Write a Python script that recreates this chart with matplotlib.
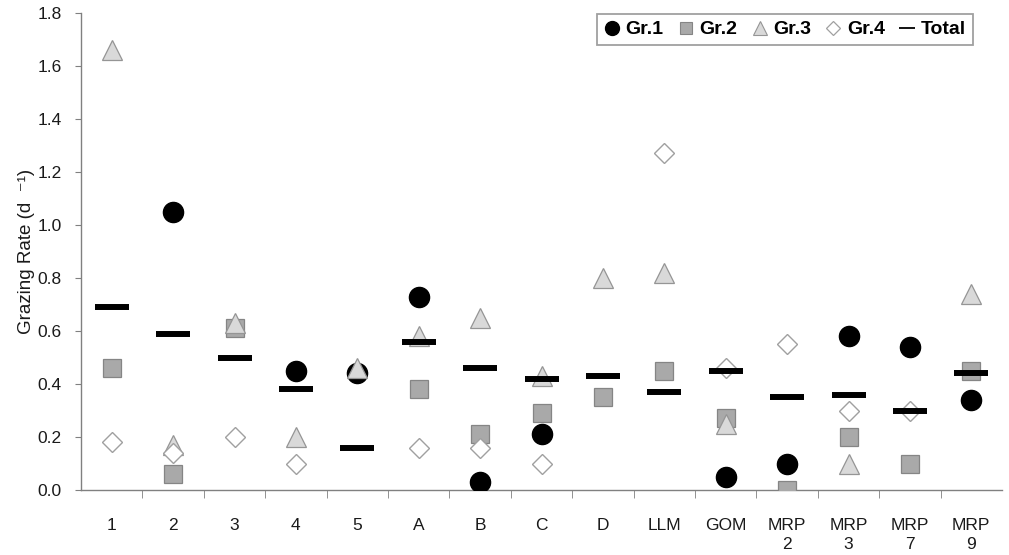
import numpy as np
import matplotlib
matplotlib.use("Agg")
import matplotlib.pyplot as plt
from matplotlib.lines import Line2D

plt.rcParams['font.family'] = ['Liberation Sans', 'DejaVu Sans']

categories = ["1", "2", "3", "4", "5", "A", "B", "C", "D", "LLM", "GOM",
              "MRP\n2", "MRP\n3", "MRP\n7", "MRP\n9"]
nan = np.nan
gr1 = [nan, 1.05, nan, 0.45, 0.44, 0.73, 0.03, 0.21, nan, nan, 0.05, 0.10, 0.58, 0.54, 0.34]
gr2 = [0.46, 0.06, 0.61, nan, nan, 0.38, 0.21, 0.29, 0.35, 0.45, 0.27, 0.00, 0.20, 0.10, 0.45]
gr3 = [1.66, 0.17, 0.63, 0.20, 0.46, 0.58, 0.65, 0.43, 0.80, 0.82, 0.25, nan, 0.10, nan, 0.74]
gr4 = [0.18, 0.14, 0.20, 0.10, nan, 0.16, 0.16, 0.10, nan, 1.27, 0.46, 0.55, 0.30, 0.30, nan]
total = [0.69, 0.59, 0.50, 0.38, 0.16, 0.56, 0.46, 0.42, 0.43, 0.37, 0.45, 0.35, 0.36, 0.30, 0.44]

x = np.arange(len(categories))

fig = plt.figure(figsize=(10.09, 5.55), dpi=100)
ax = fig.add_axes([81/1009, 1 - 490/555, (1002 - 81)/1009, (490 - 13)/555])

ax.plot(x, gr1, linestyle='none', marker='o', markersize=14.5, color='black', zorder=3)
ax.plot(x, gr2, linestyle='none', marker='s', markersize=12.5, markerfacecolor='#a9a9a9',
        markeredgecolor='#858585', markeredgewidth=0.9, zorder=4)
ax.plot(x, gr3, linestyle='none', marker='^', markersize=14, markerfacecolor='#d9d9d9',
        markeredgecolor='#959595', markeredgewidth=0.9, zorder=5)
ax.plot(x, gr4, linestyle='none', marker='D', markersize=10, markerfacecolor='white',
        markeredgecolor='#a0a0a0', markeredgewidth=1.0, zorder=6)
ax.plot(x, total, linestyle='none', marker='_', markersize=24, color='black',
        markeredgewidth=4.3, zorder=7)

ax.set_xlim(-0.5, len(categories) - 0.5)
ax.set_ylim(0, 1.8)
yt = np.arange(0, 1.81, 0.2)
ax.set_yticks(yt)
ax.set_yticklabels([f"{v:.1f}" for v in yt], fontsize=12.5, color='#1a1a1a')
ax.set_xticks(x)
ax.set_xticklabels(categories, fontsize=12.5, color='#1a1a1a', linespacing=1.35)
ax.set_xticks(np.arange(0.5, len(categories) - 0.5, 1), minor=True)
ax.tick_params(axis='x', which='major', length=0, pad=20)
ax.tick_params(axis='x', which='minor', length=6, direction='out', color='#808080')
ax.tick_params(axis='y', length=4, direction='out', color='#808080', pad=10)

for s in ['top', 'right']:
    ax.spines[s].set_visible(False)
for s in ['left', 'bottom']:
    ax.spines[s].set_color('#808080')
    ax.spines[s].set_linewidth(1.0)

ax.set_ylabel('Grazing Rate (d  \u207b\u00b9)', fontsize=13.5, color='#1a1a1a', labelpad=2)

handles = [
    Line2D([], [], linestyle='none', marker='o', markersize=10, color='black'),
    Line2D([], [], linestyle='none', marker='s', markersize=9, markerfacecolor='#a9a9a9',
           markeredgecolor='#858585', markeredgewidth=0.8),
    Line2D([], [], linestyle='none', marker='^', markersize=10, markerfacecolor='#d9d9d9',
           markeredgecolor='#959595', markeredgewidth=0.8),
    Line2D([], [], linestyle='none', marker='D', markersize=7.5, markerfacecolor='white',
           markeredgecolor='#a0a0a0', markeredgewidth=0.9),
    Line2D([], [], linestyle='none', marker='_', markersize=11, color='black', markeredgewidth=1.3),
]
leg = ax.legend(handles, ['Gr.1', 'Gr.2', 'Gr.3', 'Gr.4', 'Total'], ncol=5,
                loc='upper right', fancybox=False, framealpha=1,
                edgecolor='#a0a0a0', prop={'weight': 'bold', 'size': 14},
                handlelength=0.8, handletextpad=0.3, columnspacing=0.75,
                borderpad=0.35, borderaxespad=0)
leg.get_frame().set_linewidth(1.3)
leg.set_bbox_to_anchor((973/1009, 1 - 14/555), transform=fig.transFigure)

fig.savefig('out.png', dpi=100)
